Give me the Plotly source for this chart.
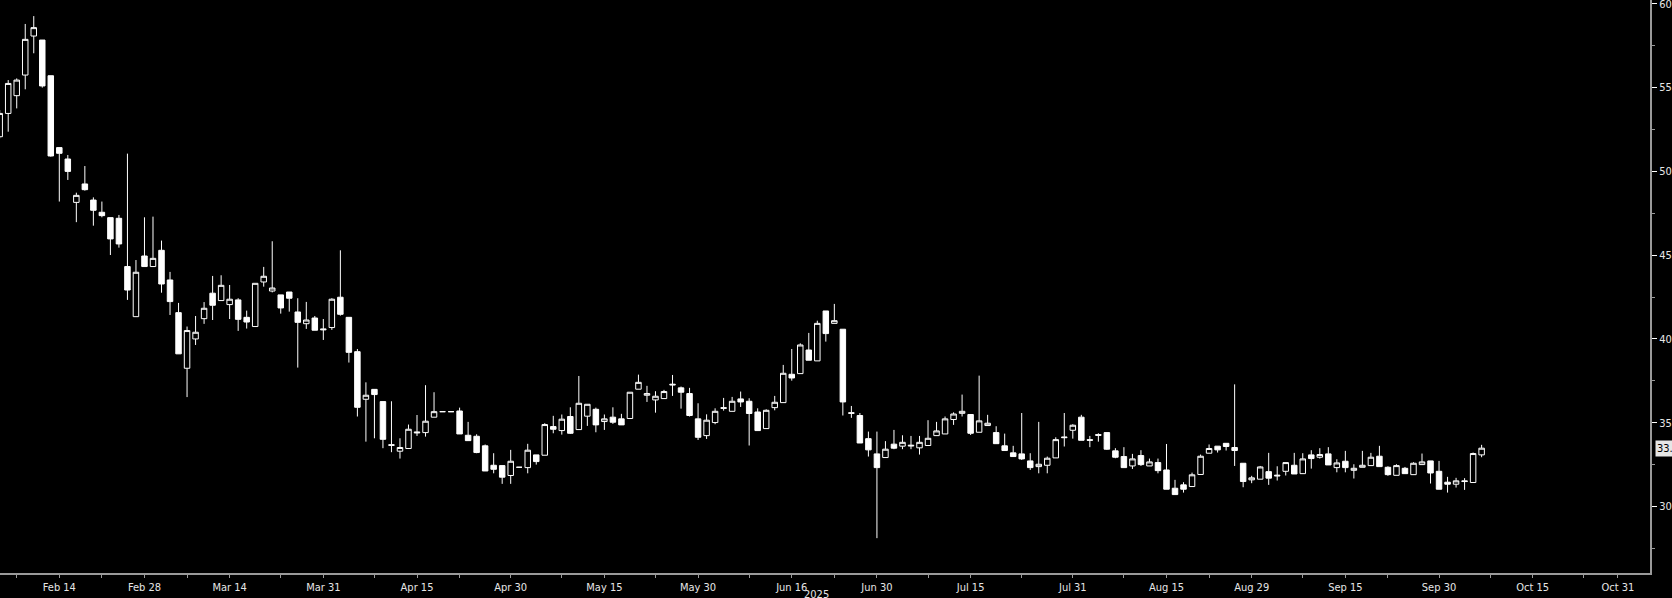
import pandas as pd
import plotly.graph_objects as go

# Daily prices, one value per weekday from 5 Feb 2025 (holidays kept as flat bars)
start_date = "2025-02-05"

open_prices = [
    52.07, 53.46, 54.52, 55.75, 58.08, 57.84, 55.71, 51.42, 50.74, 48.15,
    49.25, 48.29, 47.56, 47.24, 47.20, 44.32, 41.33, 44.95, 44.32, 45.29,
    43.52, 41.57, 38.25, 40.00, 41.21, 42.73, 42.29, 42.05, 42.33, 41.29,
    40.74, 43.40, 42.86, 42.63, 42.80, 41.61, 40.91, 41.25, 40.60, 40.68,
    42.49, 41.29, 39.24, 36.40, 36.99, 36.26, 33.69, 33.30, 33.46, 34.45,
    34.41, 35.33, 35.66, 35.66, 35.70, 34.25, 34.19, 33.62, 32.46, 32.44,
    31.85, 32.34, 32.32, 33.08, 33.06, 34.77, 34.53, 35.37, 34.59, 35.39,
    35.80, 35.07, 35.33, 35.23, 35.25, 37.00, 36.64, 36.36, 36.44, 37.30,
    37.08, 36.74, 35.23, 34.23, 35.01, 35.90, 35.68, 36.42, 36.28, 35.64,
    34.65, 35.90, 36.20, 37.89, 37.93, 39.34, 38.69, 41.67, 40.93, 40.58,
    35.60, 35.43, 34.05, 33.14, 32.92, 33.72, 33.60, 33.66, 33.50, 33.64,
    34.23, 34.33, 35.19, 35.56, 35.49, 34.43, 34.83, 34.41, 33.62, 33.20,
    33.14, 32.72, 32.38, 32.46, 32.90, 34.15, 34.55, 35.33, 33.99, 34.29,
    34.41, 33.32, 32.98, 32.42, 33.04, 32.42, 32.62, 32.18, 31.09, 31.29,
    31.19, 31.91, 33.18, 33.60, 33.77, 33.52, 32.58, 31.59, 31.63, 32.08,
    31.87, 32.10, 32.46, 31.96, 33.08, 32.94, 33.14, 32.32, 32.70, 32.16,
    32.34, 32.44, 33.00, 32.34, 31.86, 32.28, 31.90, 32.50, 32.72, 32.10,
    31.45, 31.33, 31.53, 31.43, 33.08,
]

high_prices = [
    53.66, 55.45, 55.55, 58.80, 59.27, 57.84, 55.71, 51.42, 50.98, 48.73,
    50.32, 48.45, 48.20, 47.24, 47.40, 51.06, 44.71, 47.26, 47.30, 45.87,
    44.00, 42.15, 40.74, 41.37, 42.20, 43.76, 43.80, 43.22, 42.43, 41.69,
    43.32, 44.30, 45.83, 42.63, 42.80, 42.43, 42.21, 41.37, 41.19, 42.43,
    45.29, 41.29, 39.40, 37.41, 36.99, 36.26, 36.28, 34.07, 34.89, 35.46,
    37.24, 36.82, 35.66, 35.66, 35.90, 35.05, 34.31, 33.70, 33.18, 32.44,
    33.38, 32.34, 33.74, 33.08, 34.97, 35.41, 35.49, 35.92, 37.79, 36.10,
    35.90, 35.49, 35.92, 35.53, 36.82, 37.87, 37.20, 36.88, 36.96, 37.85,
    37.16, 37.08, 36.16, 35.50, 35.86, 36.48, 36.54, 36.86, 36.46, 35.86,
    35.80, 36.60, 38.45, 39.40, 39.74, 40.36, 41.09, 41.67, 42.09, 40.58,
    36.00, 35.58, 34.47, 34.47, 33.90, 34.57, 34.25, 34.21, 34.21, 35.15,
    35.05, 35.37, 35.62, 36.68, 35.49, 37.81, 35.47, 34.79, 34.35, 33.62,
    35.58, 33.18, 35.05, 32.98, 34.13, 35.58, 34.91, 35.47, 34.21, 34.37,
    34.41, 33.48, 33.54, 33.14, 33.36, 32.86, 32.86, 33.73, 31.59, 31.45,
    32.02, 33.10, 33.70, 33.60, 33.77, 37.29, 32.58, 31.83, 32.42, 33.20,
    32.40, 32.62, 33.20, 33.18, 33.36, 33.48, 33.54, 32.82, 33.32, 32.52,
    33.32, 33.20, 33.62, 32.40, 32.52, 32.36, 32.64, 33.16, 32.72, 32.72,
    31.77, 31.71, 31.69, 33.22, 33.68,
]

low_prices = [
    51.97, 52.37, 53.76, 54.90, 57.05, 55.00, 50.88, 48.20, 49.49, 46.97,
    48.85, 46.76, 47.26, 45.01, 45.45, 42.33, 41.33, 44.32, 44.32, 42.76,
    41.43, 39.11, 36.53, 39.64, 40.90, 41.13, 42.29, 41.19, 40.48, 40.62,
    40.74, 43.12, 42.78, 41.51, 41.63, 38.29, 40.60, 40.52, 39.94, 40.54,
    41.39, 38.59, 35.37, 33.87, 34.07, 33.48, 33.24, 32.86, 33.46, 34.21,
    34.17, 35.33, 35.66, 35.66, 34.33, 33.93, 33.18, 32.12, 31.98, 31.35,
    31.35, 32.34, 31.98, 32.50, 33.06, 34.37, 34.29, 34.33, 34.59, 34.81,
    34.43, 34.57, 34.93, 34.87, 35.25, 37.00, 36.24, 35.60, 36.44, 36.60,
    35.84, 35.37, 33.97, 34.03, 34.91, 35.72, 35.68, 35.94, 33.64, 34.53,
    34.65, 35.74, 36.20, 37.51, 37.93, 38.73, 38.69, 39.84, 40.93, 35.43,
    35.29, 33.79, 32.98, 28.11, 32.92, 33.42, 33.42, 33.42, 33.10, 33.64,
    34.23, 34.33, 34.87, 35.37, 34.27, 34.43, 34.83, 33.75, 33.34, 32.98,
    32.78, 32.18, 31.98, 31.98, 32.90, 33.58, 34.05, 33.95, 33.54, 33.87,
    33.38, 32.88, 32.32, 32.24, 32.42, 32.42, 31.98, 31.03, 30.71, 30.83,
    31.19, 31.91, 33.18, 33.22, 33.34, 32.42, 31.15, 31.39, 31.63, 31.29,
    31.55, 31.85, 31.94, 31.96, 32.26, 32.86, 32.48, 32.04, 32.04, 31.67,
    32.34, 32.44, 32.38, 31.83, 31.86, 31.96, 31.90, 32.50, 31.37, 31.03,
    30.83, 31.13, 30.99, 31.43, 32.94,
]

close_prices = [
    53.46, 55.25, 55.45, 57.88, 58.58, 55.10, 50.92, 51.08, 50.00, 48.57,
    48.91, 47.68, 47.36, 45.97, 45.67, 42.92, 43.98, 44.32, 44.81, 43.28,
    42.23, 39.11, 40.50, 40.40, 41.83, 42.01, 43.20, 42.37, 41.17, 41.01,
    43.32, 43.74, 43.04, 41.85, 42.43, 40.99, 41.13, 40.52, 40.55, 42.37,
    41.47, 39.20, 35.92, 36.64, 36.68, 34.01, 33.65, 33.52, 34.61, 34.40,
    35.09, 35.66, 35.66, 35.66, 34.33, 33.93, 33.22, 32.12, 32.22, 31.75,
    32.70, 32.34, 33.36, 32.68, 34.89, 34.61, 35.21, 34.37, 36.16, 36.10,
    34.87, 35.23, 35.03, 34.87, 36.82, 37.41, 36.74, 36.58, 36.86, 37.26,
    36.82, 35.43, 34.13, 35.15, 35.68, 35.86, 36.28, 36.24, 35.55, 34.53,
    35.74, 36.22, 37.95, 37.67, 39.64, 38.73, 40.93, 40.32, 41.09, 36.24,
    35.56, 33.79, 33.38, 32.32, 33.42, 33.48, 33.83, 33.62, 33.83, 34.07,
    34.51, 35.23, 35.52, 35.68, 34.37, 35.11, 34.97, 33.75, 33.34, 32.98,
    32.84, 32.32, 32.52, 32.88, 33.99, 34.11, 34.85, 33.95, 33.95, 34.25,
    33.42, 32.94, 32.32, 32.84, 32.50, 32.66, 32.14, 31.03, 30.71, 31.03,
    31.89, 33.00, 33.46, 33.38, 33.58, 33.34, 31.49, 31.71, 32.36, 31.69,
    31.83, 32.62, 31.94, 32.84, 32.86, 33.10, 32.48, 32.60, 32.32, 32.28,
    32.46, 32.94, 32.38, 31.90, 32.44, 31.96, 32.58, 32.66, 32.00, 31.03,
    31.33, 31.53, 31.49, 33.16, 33.48,
]

# Axis labels
x_tick_dates = [
    "2025-02-14", "2025-02-28", "2025-03-14", "2025-03-31", "2025-04-15",
    "2025-04-30", "2025-05-15", "2025-05-30", "2025-06-16", "2025-06-30",
    "2025-07-15", "2025-07-31", "2025-08-15", "2025-08-29", "2025-09-15",
    "2025-09-30", "2025-10-15", "2025-10-29",
]
x_tick_labels = [
    "Feb 14", "Feb 28", "Mar 14", "Mar 31", "Apr 15", "Apr 30", "May 15",
    "May 30", "Jun 16", "Jun 30", "Jul 15", "Jul 31", "Aug 15", "Aug 29",
    "Sep 15", "Sep 30", "Oct 15", "Oct 31",
]
x_minor_dates = [
    "2025-02-07", "2025-02-21", "2025-03-07", "2025-03-24", "2025-04-08",
    "2025-04-22", "2025-05-08", "2025-05-23", "2025-06-09", "2025-06-23",
    "2025-07-08", "2025-07-23", "2025-08-08", "2025-08-22", "2025-09-08",
    "2025-09-22", "2025-10-08", "2025-10-23",
]
y_ticks = [30, 35, 40, 45, 50, 55, 60]
y_minor_ticks = [27.5, 32.5, 37.5, 42.5, 47.5, 52.5, 57.5]

dates = pd.bdate_range(start_date, periods=len(close_prices))

label_font = dict(
    family="Liberation Sans Narrow, DejaVu Sans Condensed, Arial Narrow, sans-serif",
    size=11,
    color="#e6e6e6",
)
axis_grey = "#9a9a9a"

fig = go.Figure()

# Hollow bodies for up days, solid white bodies for down days
fig.add_trace(go.Candlestick(
    x=dates,
    open=open_prices,
    high=high_prices,
    low=low_prices,
    close=close_prices,
    increasing=dict(fillcolor="#000000", line=dict(color="#ffffff", width=1)),
    decreasing=dict(fillcolor="#ffffff", line=dict(color="#ffffff", width=1)),
    whiskerwidth=0,
    showlegend=False,
))

# Last price tag on the right axis
fig.add_annotation(
    x=1, xref="paper", xanchor="left", xshift=5,
    y=close_prices[-1], yref="y", yanchor="middle",
    text=f"{close_prices[-1]:.2f}",
    showarrow=False,
    bgcolor="#e6e6e6",
    borderpad=1,
    font=dict(family=label_font["family"], size=11, color="#000000"),
)

# Year marker under the date axis
fig.add_annotation(
    x=0.495, xref="paper", y=-0.038, yref="paper",
    yanchor="middle",
    text="2025",
    showarrow=False,
    font=label_font,
)

fig.update_layout(
    width=1672,
    height=598,
    margin=dict(l=0, r=22, t=0, b=25),
    paper_bgcolor="#000000",
    plot_bgcolor="#000000",
    boxgap=0.08,
    showlegend=False,
    xaxis=dict(
        type="date",
        rangeslider=dict(visible=False),
        rangebreaks=[dict(bounds=["sat", "mon"])],
        range=["2025-02-05 00:53", "2025-11-03 18:29"],
        tickmode="array",
        tickvals=x_tick_dates,
        ticktext=x_tick_labels,
        ticks="outside",
        ticklen=3,
        tickcolor=axis_grey,
        minor=dict(tickmode="array", tickvals=x_minor_dates, ticks="outside",
                   ticklen=3, tickcolor=axis_grey),
        showgrid=False,
        zeroline=False,
        showline=True,
        linecolor=axis_grey,
        linewidth=2,
        tickfont=label_font,
        ticklabeloverflow="allow",
        automargin=False,
    ),
    yaxis=dict(
        side="right",
        range=[26.03, 60.23],
        tickmode="array",
        tickvals=y_ticks,
        ticks="outside",
        ticklen=5,
        tickcolor="#ffffff",
        minor=dict(tickmode="array", tickvals=y_minor_ticks, ticks="outside",
                   ticklen=3, tickcolor=axis_grey),
        showgrid=False,
        zeroline=False,
        showline=True,
        linecolor=axis_grey,
        linewidth=2,
        tickfont=label_font,
        ticklabeloverflow="allow",
        automargin=False,
    ),
)

# The page's default 8px body margin would push the figure off the window
fig.write_html(
    "out.html",
    config={"displayModeBar": False},
    post_script="document.body.style.margin='0';document.body.style.background='#000';",
)
